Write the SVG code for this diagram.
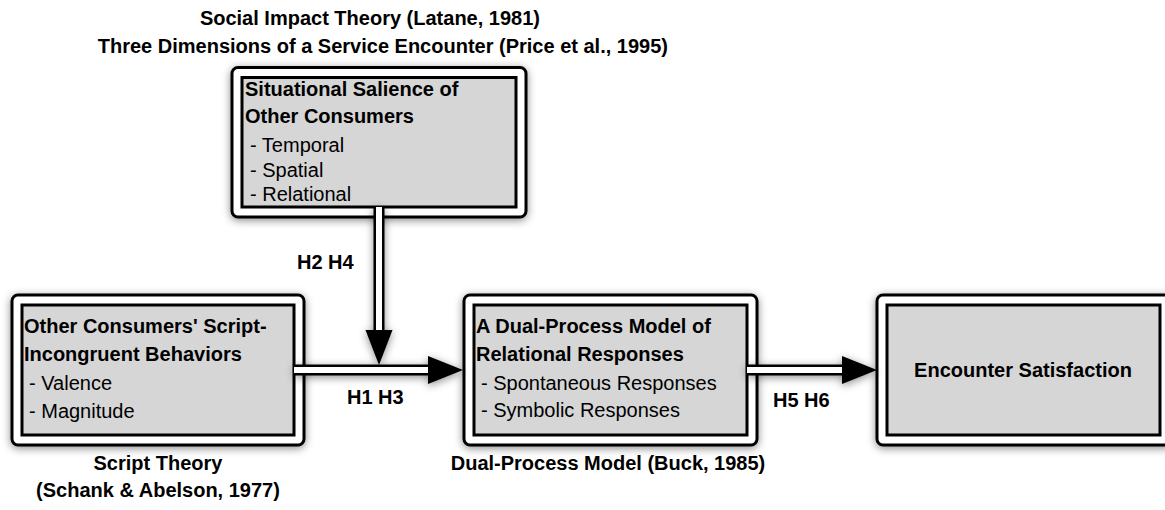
<svg xmlns="http://www.w3.org/2000/svg" width="1165" height="510" viewBox="0 0 1165 510">
  <defs>
    <filter id="sh" x="-20%" y="-20%" width="140%" height="140%">
      <feDropShadow dx="0" dy="2" stdDeviation="4" flood-color="#000" flood-opacity="0.45"/>
    </filter>
    <style>
      text { font-family: "Liberation Sans", Arial, Helvetica, sans-serif; font-size: 20px; fill: #000; }
      .b { font-weight: bold; }
      .outer { fill: #fff; stroke: #000; stroke-width: 3; }
      .inner { fill: #d6d6d6; stroke: #000; stroke-width: 3; }
      .shaft-o { stroke: #000; stroke-width: 11; fill: none; }
      .shaft-i { stroke: #fff; stroke-width: 6; fill: none; }
      .head { fill: #000; }
    </style>
  </defs>
  <rect width="1165" height="510" fill="#fff"/>

  <g id="titles">
    <text class="b" x="540" y="25" text-anchor="end">Social Impact Theory (Latane, 1981)</text>
    <text class="b" x="668" y="53" text-anchor="end">Three Dimensions of a Service Encounter (Price et al., 1995)</text>
    <text class="b" x="158" y="470" text-anchor="middle">Script Theory</text>
    <text class="b" x="158" y="497" text-anchor="middle">(Schank &amp; Abelson, 1977)</text>
    <text class="b" x="608" y="470" text-anchor="middle">Dual-Process Model (Buck, 1985)</text>
  </g>

  <g id="node-salience">
    <rect class="outer" x="232" y="67.5" width="294" height="149.5" rx="6" filter="url(#sh)"/>
    <rect class="inner" x="242" y="77.5" width="274" height="129.5"/>
    <text class="b" x="245" y="96">Situational Salience of</text>
    <text class="b" x="245" y="123">Other Consumers</text>
    <text x="250" y="152">- Temporal</text>
    <text x="250" y="177">- Spatial</text>
    <text x="250" y="201">- Relational</text>
  </g>

  <g id="node-behaviors">
    <rect class="outer" x="12" y="295" width="292" height="150" rx="6" filter="url(#sh)"/>
    <rect class="inner" x="22" y="305" width="272" height="130"/>
    <text class="b" x="24" y="333">Other Consumers' Script-</text>
    <text class="b" x="24" y="361">Incongruent Behaviors</text>
    <text x="29" y="390">- Valence</text>
    <text x="29" y="418">- Magnitude</text>
  </g>

  <g id="node-dual">
    <rect class="outer" x="464" y="295" width="293" height="150" rx="6" filter="url(#sh)"/>
    <rect class="inner" x="474" y="305" width="273" height="130"/>
    <text class="b" x="476" y="333">A Dual-Process Model of</text>
    <text class="b" x="476" y="361">Relational Responses</text>
    <text x="481" y="390">- Spontaneous Responses</text>
    <text x="481" y="417">- Symbolic Responses</text>
  </g>

  <g id="node-satisfaction">
    <rect class="outer" x="877" y="295" width="294" height="150" rx="6" filter="url(#sh)"/>
    <rect class="inner" x="887" y="305" width="273" height="130"/>
    <text class="b" x="1023" y="377" text-anchor="middle">Encounter Satisfaction</text>
  </g>

  <g id="connectors" filter="url(#sh)">
    <g id="edge-h2h4">
      <line class="shaft-o" x1="379" y1="207" x2="379" y2="332"/>
      <line class="shaft-i" x1="379" y1="207" x2="379" y2="334"/>
      <polygon class="head" points="365.5,330 392.5,330 379,365"/>
    </g>
    <g id="edge-h1h3">
      <line class="shaft-o" x1="294" y1="370" x2="430" y2="370"/>
      <line class="shaft-i" x1="294" y1="370" x2="432" y2="370"/>
      <polygon class="head" points="428,356 428,384 463,370"/>
    </g>
    <g id="edge-h5h6">
      <line class="shaft-o" x1="747" y1="370" x2="844" y2="370"/>
      <line class="shaft-i" x1="747" y1="370" x2="846" y2="370"/>
      <polygon class="head" points="842,356 842,384 877,370"/>
    </g>
  </g>

  <g id="edge-labels">
    <text class="b" x="297" y="269">H2 H4</text>
    <text class="b" x="347" y="404">H1 H3</text>
    <text class="b" x="773" y="407">H5 H6</text>
  </g>
</svg>
